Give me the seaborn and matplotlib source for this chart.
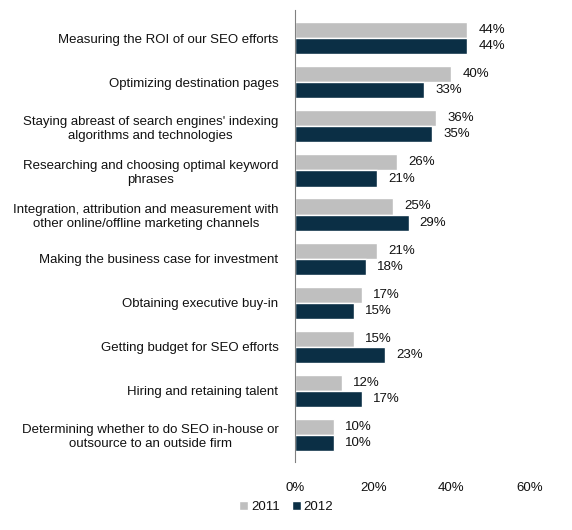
import pandas as pd
import seaborn as sns
import matplotlib.pyplot as plt

categories = [
    "Measuring the ROI of our SEO efforts",
    "Optimizing destination pages",
    "Staying abreast of search engines' indexing\nalgorithms and technologies",
    "Researching and choosing optimal keyword\nphrases",
    "Integration, attribution and measurement with\nother online/offline marketing channels",
    "Making the business case for investment",
    "Obtaining executive buy-in",
    "Getting budget for SEO efforts",
    "Hiring and retaining talent",
    "Determining whether to do SEO in-house or\noutsource to an outside firm",
]
values_2011 = [44, 40, 36, 26, 25, 21, 17, 15, 12, 10]
values_2012 = [44, 33, 35, 21, 29, 18, 15, 23, 17, 10]
years = ["2011", "2012"]
x_ticks = [0, 20, 40, 60]

df = pd.DataFrame({
    "category": categories * 2,
    "value": values_2011 + values_2012,
    "year": [years[0]] * len(categories) + [years[1]] * len(categories),
})

sns.set_style("white")
plt.rcParams['font.family'] = ['Liberation Sans', 'DejaVu Sans']
plt.rcParams['text.color'] = '#111111'

fs = 9.5
fig = plt.figure(figsize=(5.72, 5.3), dpi=100)
ax = fig.add_axes([0.516, 0.128, 0.41, 0.853])

palette = {"2011": "#BFBFBF", "2012": "#0B2F45"}
sns.barplot(data=df, y="category", x="value", hue="year", palette=palette,
            orient="h", width=0.73, dodge=True, saturation=1, ax=ax,
            legend=True)

for cont in ax.containers:
    ax.bar_label(cont, labels=[f"{int(v)}%" for v in cont.datavalues],
                 padding=8, fontsize=fs)

ax.set_xlim(0, 60)
ax.set_ylim(9.62, -0.64)
ax.set_xticks(x_ticks)
ax.set_xticklabels([f"{t}%" for t in x_ticks], fontsize=fs)
ax.set_yticks(range(len(categories)))
ax.set_yticklabels(categories, fontsize=fs, multialignment='center')
ax.tick_params(axis='both', length=0, labelcolor='#111111')
ax.tick_params(axis='x', pad=14)
ax.tick_params(axis='y', pad=12)
ax.set_xlabel("")
ax.set_ylabel("")
for s in ["top", "right", "bottom"]:
    ax.spines[s].set_visible(False)
ax.spines["left"].set_color("#808080")
ax.spines["left"].set_linewidth(0.8)

handles, labels = ax.get_legend_handles_labels()
ax.get_legend().remove()
fig.legend(handles, labels, loc="center", bbox_to_anchor=(0.5, 0.043),
           ncol=2, frameon=False, fontsize=fs, handlelength=0.7,
           handleheight=0.7, handletextpad=0.2, columnspacing=0.9)

fig.savefig("out.png", dpi=100)
